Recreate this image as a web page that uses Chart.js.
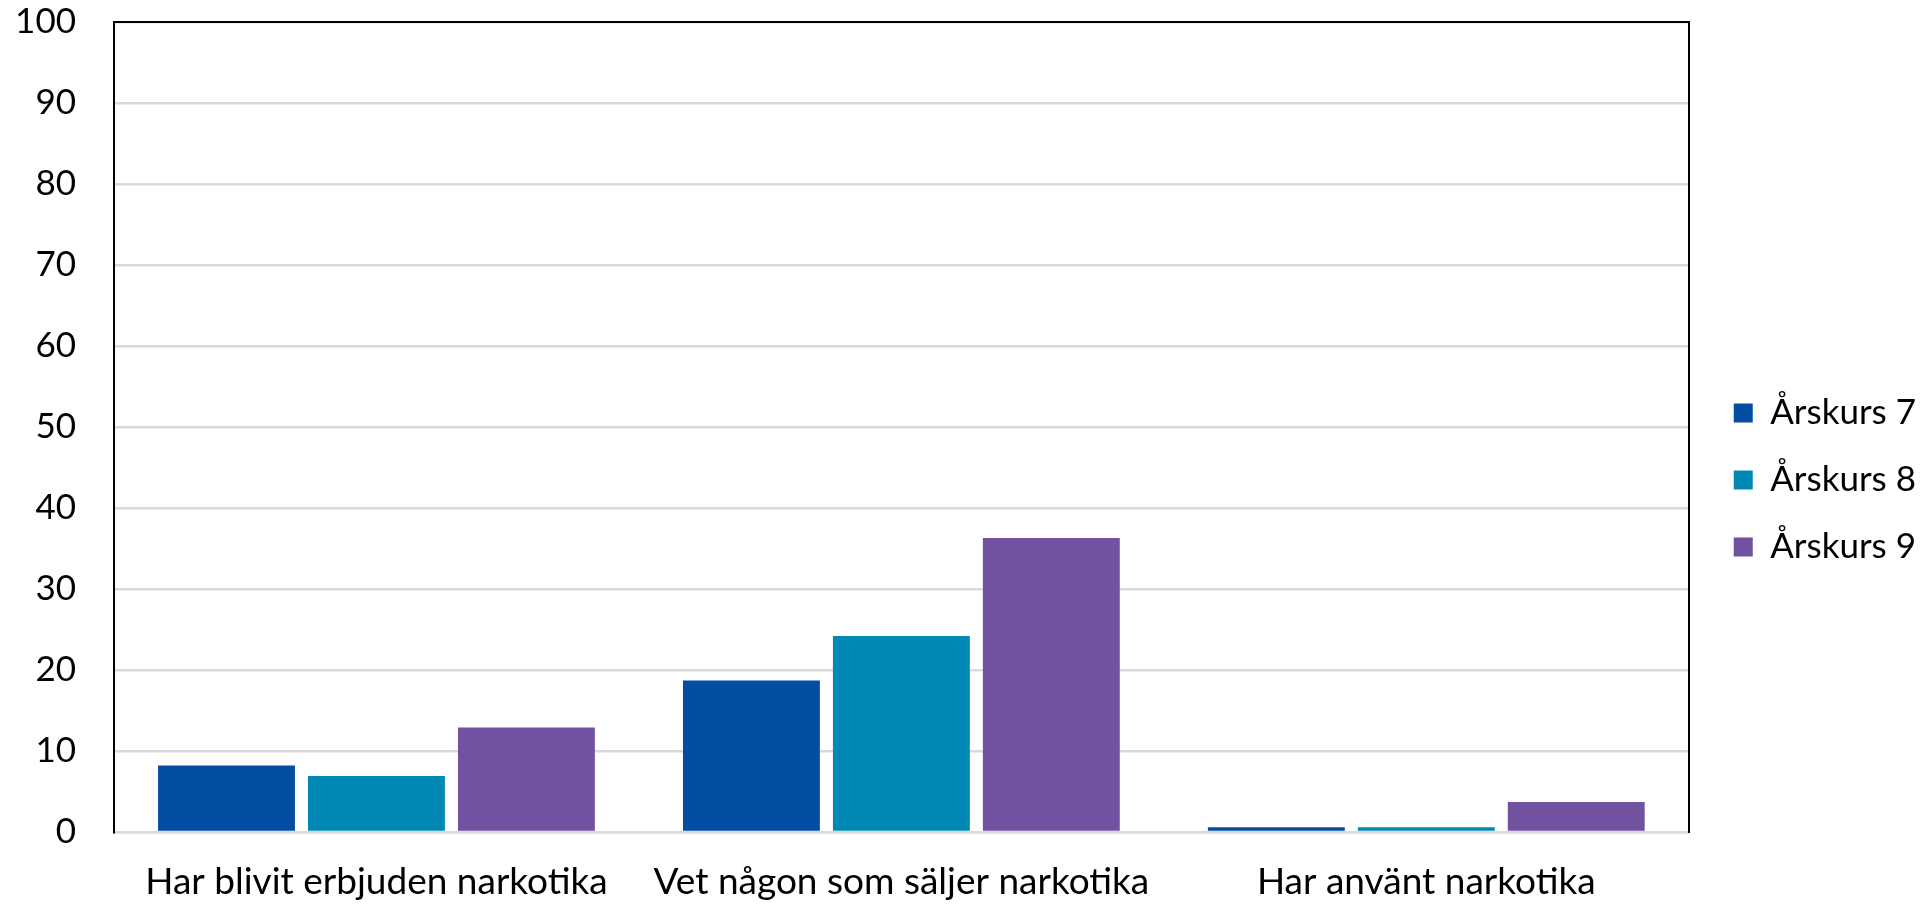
<!DOCTYPE html>
<html lang="sv">
<head>
<meta charset="utf-8">
<title>Narkotika per årskurs</title>
<script src="https://cdn.jsdelivr.net/npm/chart.js@4/dist/chart.umd.min.js"></script>
<style>
  html, body { margin: 0; padding: 0; background: #fff; }
  #wrap { width: 1929px; height: 904px; }
</style>
</head>
<body>
<div id="wrap"><canvas id="chart"></canvas></div>
<script>
// Data

var categories = [
    'Har blivit erbjuden narkotika',
    'Vet någon som säljer narkotika',
    'Har använt narkotika'
];
var seriesNames = ['Årskurs 7', 'Årskurs 8', 'Årskurs 9'];
var ak7 = [8.2, 18.7, 0.6];
var ak8 = [6.9, 24.2, 0.6];
var ak9 = [12.9, 36.3, 3.7];
var yTicks = [0, 10, 20, 30, 40, 50, 60, 70, 80, 90, 100];

var colors = ['#034ea2', '#0288b5', '#7052a0'];

// Black line along the top of the plot area

var topLine = {
    id: 'topLine',
    afterDraw: function (chart) {
        var a = chart.chartArea;
        var ctx = chart.ctx;
        ctx.save();
        ctx.strokeStyle = '#000';
        ctx.lineWidth = 2;
        ctx.beginPath();
        ctx.moveTo(a.left - 1, a.top);
        ctx.lineTo(a.right + 1, a.top);
        ctx.stroke();
        ctx.restore();
    }
};

var font = { family: 'Lato, "Noto Sans", sans-serif', size: 35 };
var catFont = { family: 'Lato, "Noto Sans", sans-serif', size: 37 };

var config = {
    type: 'bar',
    data: {
        labels: categories,
        datasets: [ak7, ak8, ak9].map(function (vals, i) {
            return {
                label: seriesNames[i],
                data: vals,
                backgroundColor: colors[i],
                borderWidth: 0,
                barPercentage: 0.913,
                categoryPercentage: 0.857
            };
        })
    },
    options: {
        responsive: true,
        maintainAspectRatio: false,
        animation: false,
        layout: {
            padding: { left: 0, top: 22, right: 3, bottom: 0 }
        },
        plugins: {
            tooltip: { enabled: false },
            legend: {
                position: 'right',
                align: 'center',
                title: {
                    display: true,
                    text: ' ',
                    font: { size: 10 },
                    padding: { top: 11, bottom: 11 }
                },
                labels: {
                    color: '#000',
                    font: font,
                    boxWidth: 19,
                    boxHeight: 19,
                    padding: 32
                }
            }
        },
        scales: {
            x: {
                grid: { display: false, drawTicks: false },
                border: { color: '#d9d9d9', width: 2.5 },
                ticks: {
                    color: '#000',
                    font: catFont,
                    padding: 28,
                    maxRotation: 0
                },
                afterFit: function (axis) {
                    axis.height = 72;
                    axis.paddingLeft = 0;
                    axis.paddingRight = 0;
                }
            },
            y: {
                min: 0,
                max: 100,
                afterBuildTicks: function (axis) {
                    axis.ticks = yTicks.map(function (v) { return { value: v }; });
                },
                grid: { color: '#d9d9d9', lineWidth: 2.5, drawTicks: false },
                border: { color: '#000', width: 2 },
                ticks: {
                    color: '#000',
                    font: font,
                    padding: 38
                },
                afterFit: function (axis) {
                    axis.width = 114;
                    axis.paddingTop = 0;
                    axis.paddingBottom = 0;
                }
            },
            // right frame of the plot, also keeps the legend a bit away
            yRight: {
                position: 'right',
                grid: { drawOnChartArea: false, drawTicks: false },
                border: { color: '#000', width: 2 },
                ticks: { display: false },
                afterFit: function (axis) {
                    axis.width = 13;
                    axis.paddingTop = 0;
                    axis.paddingBottom = 0;
                }
            }
        }
    },
    plugins: [topLine]
};

window.onload = function () {
    var ctx = document.getElementById('chart').getContext('2d');
    window.myBar = new Chart(ctx, config);
};
</script>
</body>
</html>
